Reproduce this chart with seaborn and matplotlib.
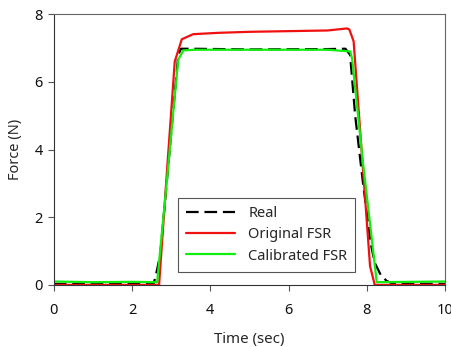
import pandas as pd
import seaborn as sns
import matplotlib.pyplot as plt

# values
real_t = [0, 1, 2, 2.55, 2.62, 2.72, 3.0, 3.18, 3.25, 3.5, 5, 7.0, 7.45, 7.57, 7.7, 7.9, 8.1, 8.2, 8.35, 8.5, 8.65, 10]
real_f = [0.03, 0.03, 0.03, 0.03, 0.35, 0.9, 4.5, 6.8, 6.98, 6.98, 6.96, 6.97, 6.98, 6.8, 5.0, 3.0, 1.2, 0.65, 0.3, 0.12, 0.04, 0.03]

orig_t = [0, 2.69, 2.9, 3.09, 3.27, 3.56, 4.2, 5, 6, 7, 7.49, 7.55, 7.66, 7.9, 8.08, 8.2, 10]
orig_f = [0.0, 0.0, 3.5, 6.6, 7.26, 7.41, 7.45, 7.48, 7.5, 7.52, 7.58, 7.55, 7.2, 3.4, 0.55, 0.0, 0.0]

cal_t = [0, 1, 2, 2.64, 2.9, 3.1, 3.18, 3.31, 3.6, 5, 7, 7.57, 7.62, 7.9, 8.1, 8.25, 10]
cal_f = [0.1, 0.08, 0.09, 0.08, 3.2, 5.7, 6.66, 6.93, 6.95, 6.95, 6.95, 6.9, 6.7, 3.6, 1.6, 0.08, 0.1]

sns.set_style("ticks")
plt.rcParams['font.family'] = ['Noto Sans', 'DejaVu Sans']

fig = plt.figure(figsize=(4.52, 3.47), dpi=100)
ax = fig.add_axes([0.119, 0.179, 0.866, 0.78])

sns.lineplot(x=real_t, y=real_f, ax=ax, color='black', linewidth=1.6,
             linestyle=(0, (5.7, 2.6)), label='Real')
sns.lineplot(x=orig_t, y=orig_f, ax=ax, color='#f01010', linewidth=1.6, label='Original FSR')
sns.lineplot(x=cal_t, y=cal_f, ax=ax, color='#10ee10', linewidth=1.6, label='Calibrated FSR')

ax.set_xlim(0, 10)
ax.set_ylim(0, 8)
ax.set_xticks([0, 2, 4, 6, 8, 10])
ax.set_yticks([0, 2, 4, 6, 8])
ax.set_xlabel('Time (sec)', fontsize=10.8, labelpad=10)
ax.set_ylabel('Force (N)', fontsize=10.5, labelpad=8)
ax.tick_params(labelsize=10.5, length=4, color='#555555', direction='out', labelcolor='#111111')
ax.tick_params(axis='x', pad=9)
ax.tick_params(axis='y', pad=4)
for s in ax.spines.values():
    s.set_color('#666666')
    s.set_linewidth(0.8)
ax.spines['left'].set_color('#333333')
ax.spines['bottom'].set_color('#333333')

leg = ax.legend(loc='lower left', bbox_to_anchor=(0.317, 0.049), borderaxespad=0,
                fontsize=10.5, fancybox=False, edgecolor='#555555', framealpha=1,
                handlelength=3.4, handletextpad=0.87, labelspacing=0.42,
                borderpad=0.55)
leg.get_frame().set_linewidth(0.8)

fig.savefig('out.png', dpi=100)
